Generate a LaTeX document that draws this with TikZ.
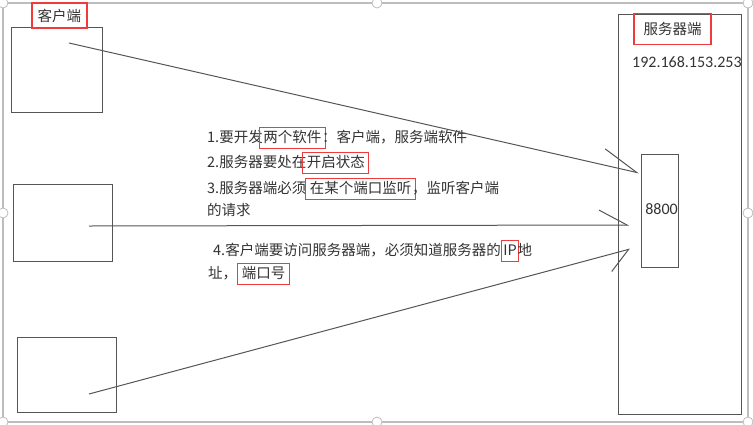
\documentclass[tikz,border=0pt]{standalone}
\usepackage{fontspec}
\setmainfont{Noto Sans CJK SC}
\newfontfamily\numfont{Carlito}
\usetikzlibrary{arrows.meta}

\definecolor{txtgray}{HTML}{333333}
\definecolor{linegray}{HTML}{555555}
\definecolor{framegray}{HTML}{BDBDBD}
\definecolor{markred}{HTML}{EE3B3B}

\begin{document}
\begin{tikzpicture}[x=1pt,y=-1pt,
	box/.style={draw=linegray, line width=1.2pt, inner sep=0pt, anchor=north west},
	lbl/.style={draw=markred, line width=1.6pt, text=txtgray, font=\fontsize{14.5}{17}\selectfont},
	say/.style={anchor=base west, inner sep=0pt, text=txtgray, font=\fontsize{14.5}{17}\selectfont},
	hl/.style={say, draw=markred, line width=1pt, inner xsep=4pt, inner ysep=3pt, text height=12pt, text depth=3pt},
	num/.style={inner sep=0pt, text=txtgray, font=\numfont\fontsize{16}{18}\selectfont},
	conn/.style={draw=linegray, line width=1pt},
	handle/.style={draw=framegray, fill=white, line width=0.8pt}]
	\useasboundingbox (0,0) rectangle (753,424);

	% frame and its handles
	\draw [framegray, line width=1.3pt] (3,3) rectangle (748,422);
	\foreach \p in {(3,3),(377,3),(748,3),(3,213),(748,213),(3,422),(377,422),(748,422)}
		\draw [handle] \p circle (5pt);

	% clients
	\node[box, minimum width=91pt, minimum height=85pt] (cli1) at (11,27) {};
	\node[box, minimum width=99pt, minimum height=77pt] (cli2) at (13,184) {};
	\node[box, minimum width=99pt, minimum height=75pt] (cli3) at (17,337) {};
	\node[lbl, minimum width=55pt, minimum height=25pt] (clilbl) at (59.5,15.5) {客户端};

	% server
	\node[box, minimum width=123pt, minimum height=400pt] (srv) at (618,14) {};
	\node[box, minimum width=37pt, minimum height=113pt] (port) at (641,154) {};
	\node[lbl, minimum width=77pt, minimum height=31pt] (srvlbl) at (672.5,29) {服务器端};
	\node[num, anchor=west] (ip) at (632,62) {192.168.153.253};
	\node[num] (portnum) at (661.5,209) {8800};

	% notes, red frames set over the words
	\node[say] (t1a) at (207,142) {1.要开发};
	\node[hl] (t1b) at ([xshift=-4pt]t1a.base east) {两个软件};
	\node[say] (t1c) at ([xshift=-4pt]t1b.base east) {：客户端，服务端软件};

	\node[say] (t2a) at (207,167) {2.服务器要处在};
	\node[hl] (t2b) at ([xshift=-4pt]t2a.base east) {开启状态};

	\node[say] (t3a) at (207,193) {3.服务器端必须};
	\node[hl] (t3b) at ([xshift=-1pt]t3a.base east) {在某个端口监听};
	\node[say] (t3c) at ([xshift=-4pt]t3b.base east) {，监听客户端};
	\node[say] (t4) at (207,215) {的请求};

	\node[say] (t5a) at (213,255) {4.客户端要访问服务器端，必须知道服务器的};
	\node[hl, inner xsep=2pt] (t5b) at (t5a.base east) {IP};
	\node[say] (t5c) at ([xshift=-2pt]t5b.base east) {地};

	\node[say] (t6a) at (208,278) {址，};
	\node[hl] (t6b) at (t6a.base east) {端口号};

	% requests
	\coordinate (r1) at (69,43);
	\coordinate (r2) at (89,226);
	\coordinate (r3) at (89,394);
	\coordinate (p1) at (639,173);
	\coordinate (p2) at (629,225);
	\coordinate (p3) at (630,249);
	\draw [conn, -{Straight Barb[harpoon, length=36pt, width=32pt]}] (r1) -- (p1);
	\draw [conn, -{Straight Barb[harpoon, length=28pt, width=30pt]}] (r2) -- (p2);
	\draw [conn, -{Straight Barb[harpoon, swap, length=22pt, width=34pt]}] (r3) -- (p3);
\end{tikzpicture}
\end{document}
